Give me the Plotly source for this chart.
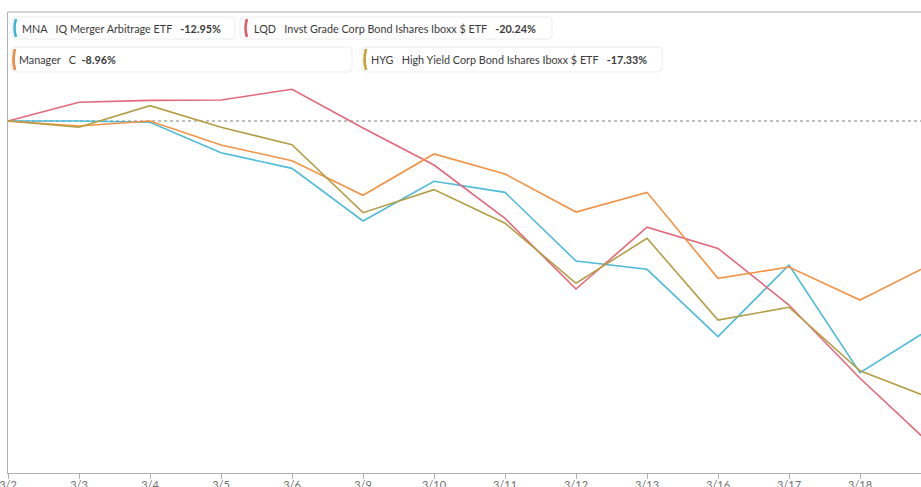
import plotly.graph_objects as go

dates = ["3/2", "3/3", "3/4", "3/5", "3/6", "3/9", "3/10", "3/11",
         "3/12", "3/13", "3/16", "3/17", "3/18", "3/19"]

mna = [0, 0, -0.08, -1.98, -2.96, -6.25, -3.77, -4.46, -8.75, -9.27, -13.48, -9.0, -15.73, -12.95]
lqd = [0, 1.17, 1.29, 1.31, 1.98, -0.44, -2.75, -6.08, -10.5, -6.64, -7.96, -11.5, -16.08, -20.24]
manager = [0, -0.31, 0, -1.5, -2.48, -4.64, -2.06, -3.31, -5.69, -4.46, -9.83, -9.13, -11.19, -8.96]
hyg = [0, -0.39, 0.96, -0.39, -1.48, -5.73, -4.29, -6.39, -10.14, -7.33, -12.44, -11.64, -15.61, -17.33]

series_names = ["MNA", "LQD", "Manager", "HYG"]
series_desc = ["IQ Merger Arbitrage ETF", "Invst Grade Corp Bond Ishares Iboxx $ ETF",
               "C", "High Yield Corp Bond Ishares Iboxx $ ETF"]
series_final = ["-12.95%", "-20.24%", "-8.96%", "-17.33%"]
colors = ["#4dbbd9", "#e3687a", "#f39343", "#b39e45"]
bracket_colors = ["#3fb6d6", "#e45b66", "#f38a3c", "#c9a03c"]

W, H = 921, 487
L, T, B = 8, 12, 14
PW = W - L
PH = H - T - B


def px(x):
    return (x - L) / PW


def py(y):
    return (H - B - y) / PH


fig = go.Figure()
for vals, name, col in zip([mna, lqd, manager, hyg], series_names, colors):
    fig.add_trace(go.Scatter(x=dates, y=vals, mode="lines", name=name,
                             line=dict(color=col, width=1.6), showlegend=False))

shapes = []
annotations = []

# zero baseline (dotted)
shapes.append(dict(type="line", xref="paper", yref="y", x0=0, x1=1, y0=0, y1=0,
                   line=dict(color="#aaaaaa", width=1.5, dash="dot"), layer="below"))
# top border
shapes.append(dict(type="line", xref="paper", yref="paper", x0=0, x1=1, y0=1, y1=1,
                   line=dict(color="#aaaaaa", width=1)))


def rounded_box(x0, y0, x1, y1, r=4):
    ax0, ax1 = px(x0), px(x1)
    ay0, ay1 = py(y0), py(y1)  # ay0 top (larger)
    rx = r / PW
    ry = r / PH
    p = (f"M {ax0+rx},{ay0} L {ax1-rx},{ay0} Q {ax1},{ay0} {ax1},{ay0-ry} "
         f"L {ax1},{ay1+ry} Q {ax1},{ay1} {ax1-rx},{ay1} "
         f"L {ax0+rx},{ay1} Q {ax0},{ay1} {ax0},{ay1+ry} "
         f"L {ax0},{ay0-ry} Q {ax0},{ay0} {ax0+rx},{ay0} Z")
    return dict(type="path", xref="paper", yref="paper", path=p,
                line=dict(color="#ececec", width=1), fillcolor="white")


def bracket(x, y0, y1, col):
    a, b = px(x + 3), px(x)
    t, m, bt = py(y0), py((y0 + y1) / 2), py(y1)
    p = f"M {a},{t} Q {b},{m} {a},{bt}"
    return dict(type="path", xref="paper", yref="paper", path=p,
                line=dict(color=col, width=2.6))


boxes = [
    (12, 17, 235, 39, 13, 19, 37, 20),
    (240, 17, 552, 39, 244, 19, 37, 252),
    (12, 47, 352, 72, 12, 49, 70, 17),
    (362, 47, 662, 72, 363, 49, 70, 369),
]
for i, (bx0, by0, bx1, by1, kx, ky0, ky1, tx) in enumerate(boxes):
    shapes.append(rounded_box(bx0, by0, bx1, by1))
    shapes.append(bracket(kx, ky0, ky1, bracket_colors[i]))
    if series_names[i] == "Manager":
        txt = f"{series_names[i]}   {series_desc[i]}  <b>{series_final[i]}</b>"
    else:
        txt = f"{series_names[i]}   {series_desc[i]}   <b>{series_final[i]}</b>"
    annotations.append(dict(xref="paper", yref="paper", x=px(tx), y=py((by0 + by1) / 2),
                            xanchor="left", yanchor="middle", showarrow=False, text=txt,
                            font=dict(family="Lato", size=10.8, color="#3a3a3a")))

fig.update_layout(
    width=W, height=H,
    margin=dict(l=L, r=0, t=T, b=B, pad=0),
    paper_bgcolor="white", plot_bgcolor="white",
    shapes=shapes, annotations=annotations,
    xaxis=dict(type="category", range=[0, (W - L) / 71.0], showgrid=False, zeroline=False,
               showline=True, linecolor="#b0b0b0", linewidth=1, automargin=False,
               ticks="outside", ticklen=5, tickcolor="#b0b0b0", ticklabelstandoff=-3,
               tickfont=dict(family="Lato", size=11, color="#707070")),
    yaxis=dict(range=[-(H - B - 121) / 16.0, (121 - T) / 16.0], showgrid=False,
               zeroline=False, showline=True, linecolor="#b0b0b0", linewidth=1,
               automargin=False, showticklabels=False, ticks=""),
)

fig.write_html("out.html", post_script="document.body.style.margin='0';",
               config={"displayModeBar": False})
